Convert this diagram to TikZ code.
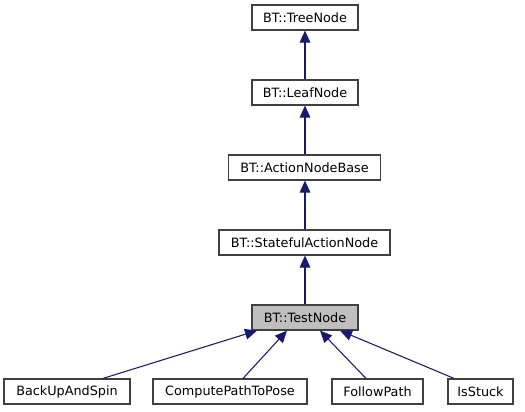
\documentclass[tikz,border=0pt]{standalone}
\usepackage{fontspec}
\setmainfont{DejaVu Sans}
\usetikzlibrary{arrows.meta}
\definecolor{edgeblue}{HTML}{191970}
\definecolor{boxgray}{HTML}{404040}
\definecolor{hlfill}{HTML}{BFBFBF}
\begin{document}
\begin{tikzpicture}[x=0.75pt,y=-0.75pt,
  cls/.style={draw=boxgray,line width=0.9pt,fill=white,inner sep=0pt,
    minimum height=25*0.75pt,font=\fontsize{9.6}{11}\selectfont,anchor=center},
  cur/.style={cls,fill=hlfill},
  inh/.style={draw=edgeblue,line width=0.8pt,
    {Triangle[length=9pt,width=8pt,fill=edgeblue]}-}]
\useasboundingbox (0,0) rectangle (525,411);
\node[cls,minimum width=106*0.75pt] (tree) at (305,17.5) {BT::TreeNode};
\node[cls,minimum width=106*0.75pt] (leaf) at (305,92.5) {BT::LeafNode};
\node[cls,minimum width=152*0.75pt] (anb) at (304.5,167.5) {BT::ActionNodeBase};
\node[cls,minimum width=171*0.75pt] (san) at (304.5,242.5) {BT::StatefulActionNode};
\node[cur,minimum width=106*0.75pt] (test) at (305,317.5) {BT::TestNode};
\node[cls,minimum width=126*0.75pt] (bus) at (67,391.5) {BackUpAndSpin};
\node[cls,minimum width=154*0.75pt] (cpp) at (230,391.5) {ComputePathToPose};
\node[cls,minimum width=91*0.75pt] (fp) at (377.5,391.5) {FollowPath};
\node[cls,minimum width=65*0.75pt] (is) at (480.5,391.5) {IsStuck};
\draw[inh] (tree.south) -- (leaf.north);
\draw[inh] (leaf.south) -- (anb.north -| leaf.south);
\draw[inh] (anb.south -| tree.south) -- (san.north -| tree.south);
\draw[inh] (san.south -| tree.south) -- (test.north);
\draw[inh] (test.south -| 257,0) -- (bus.north -| 103,0);
\draw[inh] (test.south -| 287,0) -- (cpp.north -| 243,0);
\draw[inh] (test.south -| 320,0) -- (fp.north -| 366,0);
\draw[inh] (test.south -| 340,0) -- (is.north -| 454,0);
\end{tikzpicture}
\end{document}
